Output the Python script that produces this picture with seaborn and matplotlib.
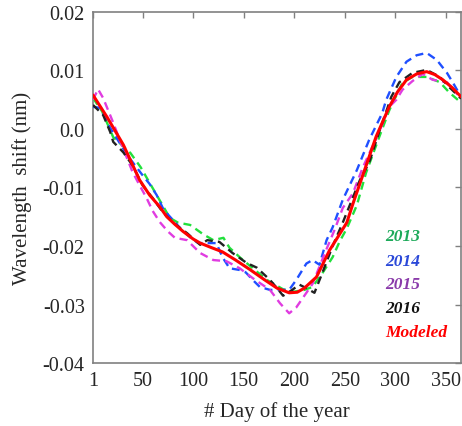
import matplotlib
matplotlib.use("Agg")
import matplotlib.pyplot as plt
import seaborn as sns
import pandas as pd

# Seasonal wavelength shift per year (day of year, shift in nm)
day_2013 = [1, 10, 21, 38, 48, 64, 77, 85, 97, 110, 120, 130, 136, 146, 159, 173, 189, 200,
            210, 218, 228, 238, 245, 252, 262, 271, 284, 294, 307, 317, 331, 344, 353, 365]
shift_2013 = [0.0053, 0.0030, -0.0014, -0.0041, -0.0065, -0.0113, -0.0152, -0.0160, -0.0164,
              -0.0180, -0.0190, -0.0186, -0.0203, -0.0219, -0.0238, -0.0258, -0.0274, -0.0278,
              -0.0275, -0.0270, -0.0246, -0.0219, -0.0192, -0.0170, -0.0130, -0.0075, -0.0014,
              0.0032, 0.0079, 0.0089, 0.0089, 0.0080, 0.0063, 0.0045]

day_2014 = [1, 8, 18, 35, 50, 57, 64, 70, 74, 87, 97, 105, 113, 123, 129, 136, 146, 152, 159,
            166, 176, 183, 195, 202, 212, 218, 225, 232, 238, 248, 262, 274, 287, 291, 301, 311,
            321, 331, 341, 351, 357, 365]
shift_2014 = [0.0038, 0.0036, 0.0002, -0.0045, -0.0079, -0.0094, -0.0113, -0.0135, -0.0144,
              -0.0169, -0.0185, -0.0195, -0.0195, -0.0195, -0.0219, -0.0238, -0.0241, -0.0245,
              -0.0258, -0.0270, -0.0275, -0.0275, -0.0275, -0.0258, -0.0230, -0.0224, -0.0232,
              -0.0190, -0.0168, -0.0121, -0.0070, -0.0019, 0.0027, 0.0050, 0.0089, 0.0115,
              0.0126, 0.0130, 0.0118, 0.0096, 0.0079, 0.0055]

day_2015 = [1, 6, 11, 20, 30, 40, 47, 54, 60, 67, 75, 82, 94, 107, 120, 133, 146, 159, 176,
            186, 195, 202, 210, 218, 232, 240, 248, 258, 268, 284, 294, 301, 307, 317, 327, 337,
            351, 360, 365]
shift_2015 = [0.0050, 0.0068, 0.0053, 0.0015, -0.0030, -0.0073, -0.0096, -0.0118, -0.0140,
              -0.0159, -0.0175, -0.0186, -0.0190, -0.0212, -0.0224, -0.0226, -0.0238, -0.0255,
              -0.0275, -0.0298, -0.0315, -0.0305, -0.0285, -0.0265, -0.0205, -0.0172, -0.0135,
              -0.0110, -0.0065, -0.0005, 0.0038, 0.0050, 0.0067, 0.0082, 0.0094, 0.0084, 0.0080,
              0.0062, 0.0052]

day_2016 = [1, 11, 18, 21, 31, 40, 50, 60, 70, 80, 94, 107, 114, 126, 139, 153, 163, 176, 183,
            189, 198, 205, 212, 220, 228, 238, 248, 265, 274, 284, 289, 296, 304, 317, 331, 344,
            353, 365]
shift_2016 = [0.0041, 0.0024, -0.0005, -0.0022, -0.0040, -0.0062, -0.0096, -0.0118, -0.0142,
              -0.0160, -0.0178, -0.0198, -0.0190, -0.0193, -0.0212, -0.0229, -0.0237, -0.0258,
              -0.0272, -0.0285, -0.0275, -0.0266, -0.0272, -0.0280, -0.0245, -0.0200, -0.0160,
              -0.0087, -0.0058, -0.0005, 0.0020, 0.0055, 0.0080, 0.0096, 0.0101, 0.0089, 0.0072,
              0.0052]

day_model = [1, 15, 31, 47, 57, 67, 74, 82, 90, 100, 107, 117, 129, 142, 156, 170, 183, 195,
             203, 210, 222, 235, 243, 252, 258, 265, 274, 281, 294, 302, 311, 321, 331, 339,
             347, 356, 365]
shift_model = [0.0058, 0.0020, -0.0027, -0.0087, -0.0113, -0.0133, -0.0150, -0.0163, -0.0175,
               -0.0188, -0.0195, -0.0202, -0.0210, -0.0224, -0.0240, -0.0257, -0.0272, -0.0280,
               -0.0279, -0.0272, -0.0253, -0.0207, -0.0185, -0.0160, -0.0128, -0.0093, -0.0048,
               -0.0013, 0.0038, 0.0063, 0.0084, 0.0094, 0.0098, 0.0093, 0.0084, 0.0071, 0.0055]

series_names = ["2013", "2014", "2015", "2016", "Modeled"]
line_colors = ["#22e03c", "#1f4fff", "#e03ce0", "#222222", "#ff0000"]
label_colors = ["#1daa5a", "#2a48d8", "#8a3aaa", "#111111", "#ff0000"]

x_ticks = [1, 50, 100, 150, 200, 250, 300, 350]
y_ticks = [-0.04, -0.03, -0.02, -0.01, 0.0, 0.01, 0.02]
y_tick_labels = ["-0.04", "-0.03", "-0.02", "-0.01", "0.0", "0.01", "0.02"]

frames = []
for name, d, s in zip(series_names,
                      [day_2013, day_2014, day_2015, day_2016, day_model],
                      [shift_2013, shift_2014, shift_2015, shift_2016, shift_model]):
    frames.append(pd.DataFrame({"day": d, "shift": s, "series": name}))
data = pd.concat(frames, ignore_index=True)

sns.set_theme(style="white")
plt.rcParams["font.family"] = ["Liberation Serif", "DejaVu Serif"]

fig = plt.figure(figsize=(4.62, 4.27), dpi=100)
ax = fig.add_axes([0.2013, 0.1475, 0.7967, 0.8221])

for name, color in zip(series_names, line_colors):
    sub = data[data["series"] == name]
    if name == "Modeled":
        sns.lineplot(data=sub, x="day", y="shift", ax=ax, color=color,
                     linewidth=2.2, zorder=5)
    else:
        sns.lineplot(data=sub, x="day", y="shift", ax=ax, color=color,
                     linewidth=1.7, linestyle=(0, (3.4, 2.2)), zorder=3)

ax.set_xlim(1, 365)
ax.set_ylim(-0.04, 0.02)
ax.set_xticks(x_ticks)
ax.set_xticklabels([str(t) for t in x_ticks])
ax.set_yticks(y_ticks)
ax.set_yticklabels(y_tick_labels)
ax.tick_params(direction="in", length=4, width=1, color="#808080",
               top=True, right=True, labelsize=14.5, pad=6)
for sp in ax.spines.values():
    sp.set_color("#808080")
    sp.set_linewidth(1.2)

ax.set_xlabel("# Day of the year", fontsize=15, labelpad=8)
ax.set_ylabel("Wavelength  shift (nm)", fontsize=15, labelpad=8)

# year / model key drawn as coloured text
key_y = [0.362, 0.291, 0.225, 0.157, 0.088]
for name, color, yy in zip(series_names, label_colors, key_y):
    ax.text(0.793, yy, name, transform=ax.transAxes, color=color,
            fontsize=12.5, fontweight="bold", fontstyle="italic",
            va="center", ha="left")

fig.savefig("out.png", dpi=100)
